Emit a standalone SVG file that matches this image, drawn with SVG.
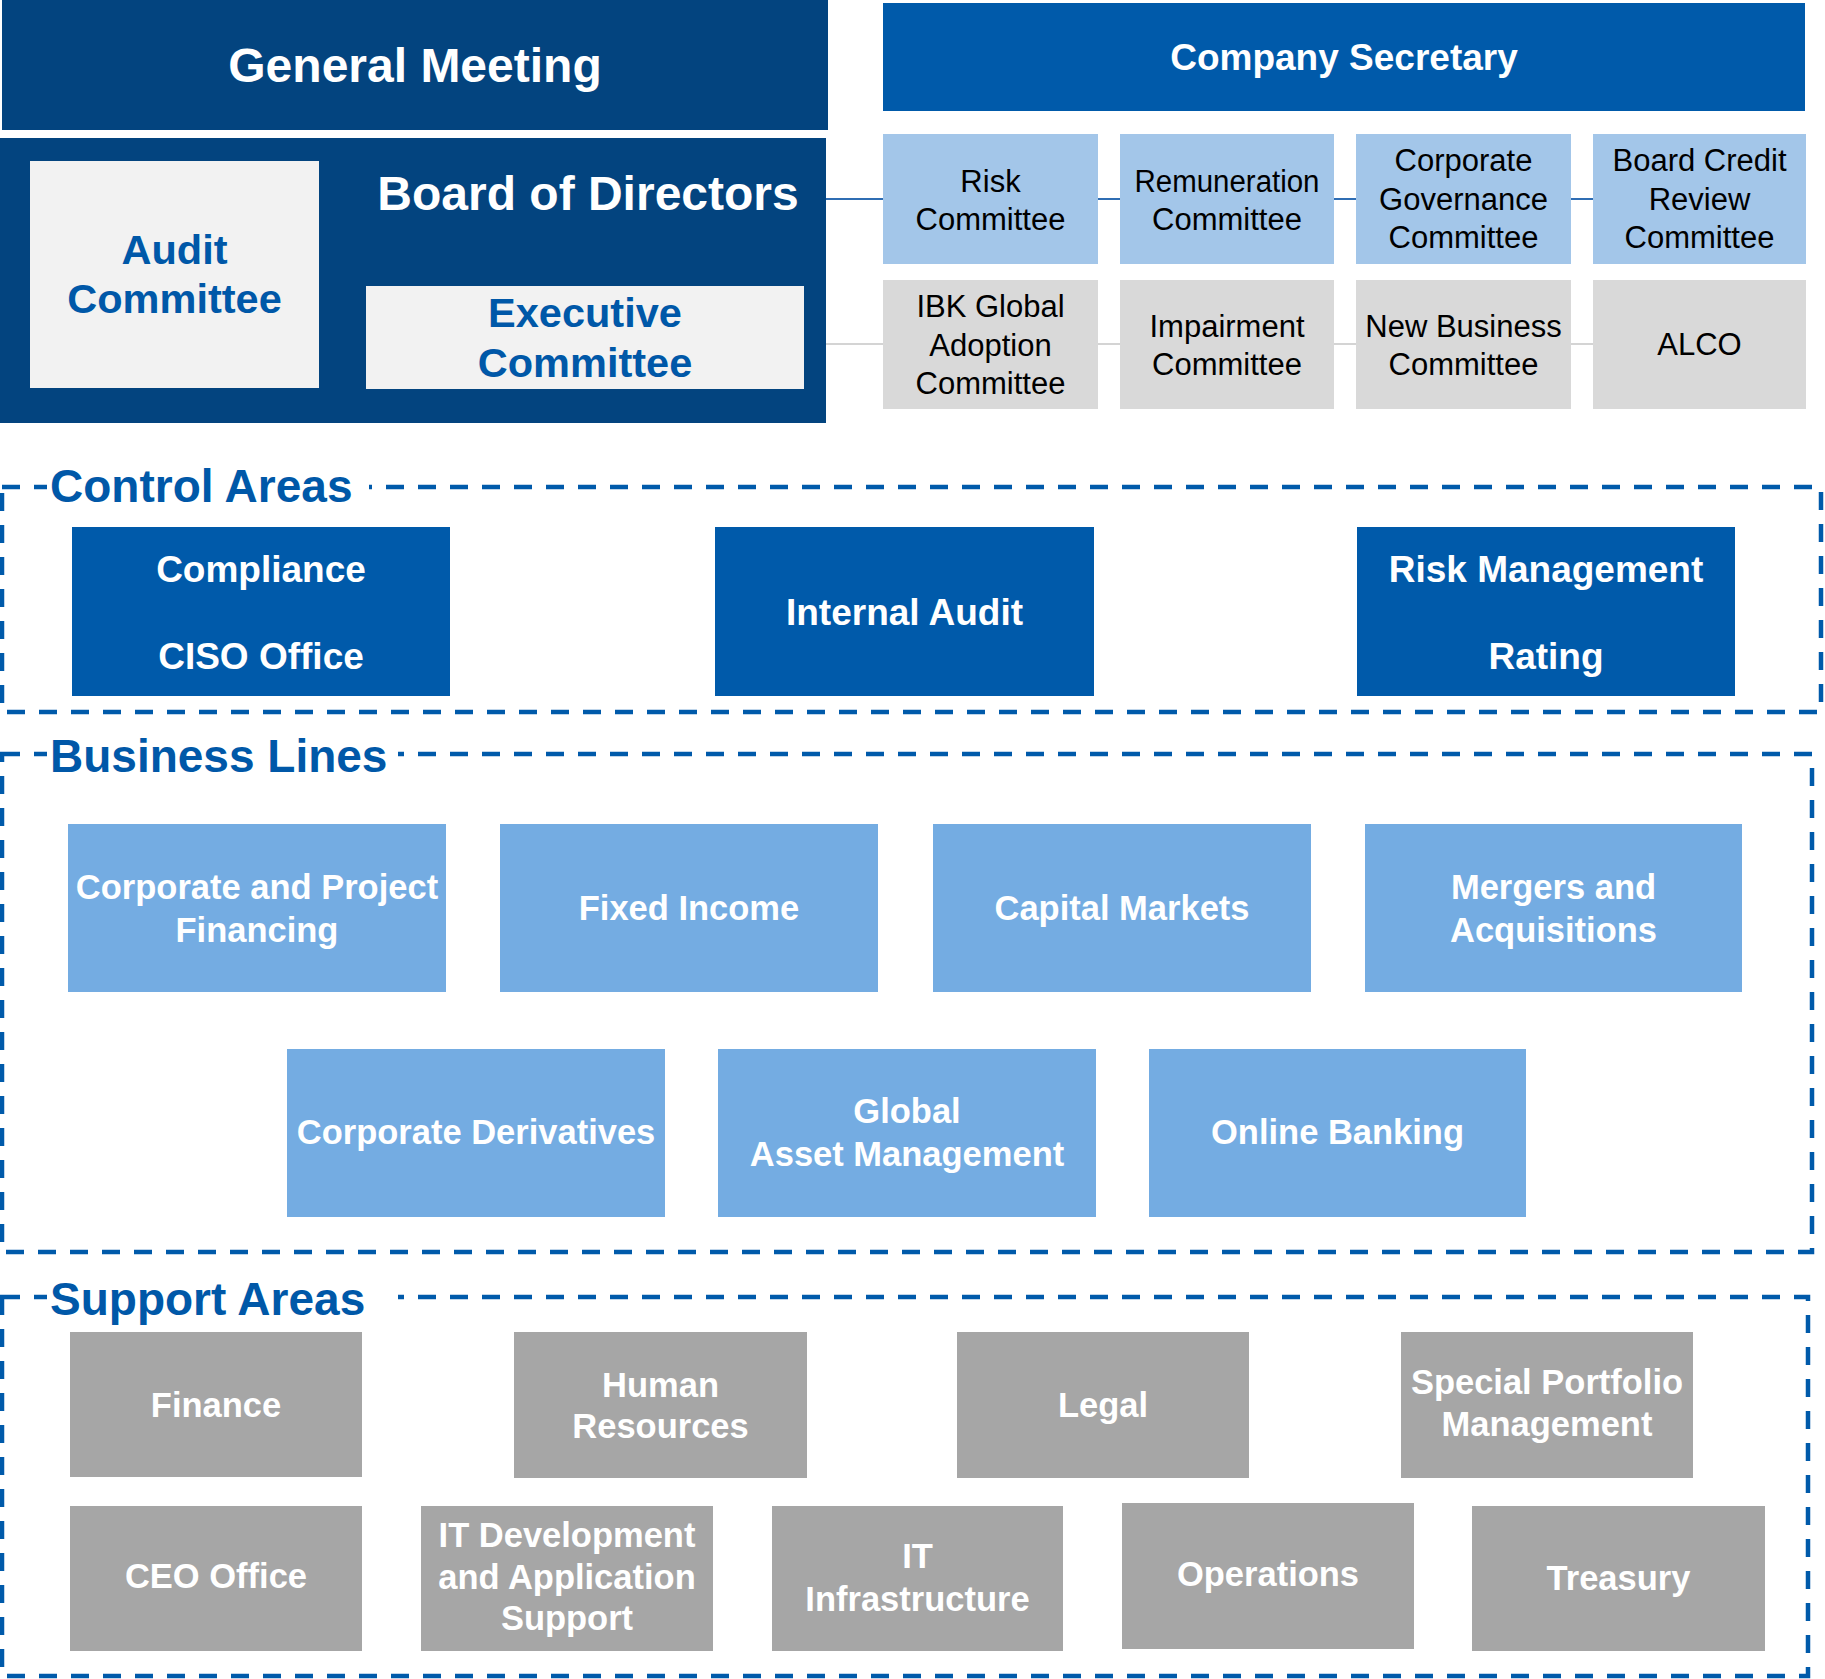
<svg xmlns="http://www.w3.org/2000/svg" width="1825" height="1679" viewBox="0 0 1825 1679">
<style>
text{font-family:"Liberation Sans",Arial,sans-serif;text-anchor:middle}
.wb{fill:#ffffff;font-weight:bold}
.big{font-size:48px}
.bl{fill:#0058A8;font-weight:bold;font-size:41.5px}
.cs{font-size:37px}
.cm{fill:#000000;font-size:31px}
.ct{font-size:37px}
.bz{font-size:34.5px}
.sp{font-size:34.5px}
.lab{fill:#0058A8;font-weight:bold;font-size:46px;text-anchor:start}
.navy{fill:#03447F}
.blue{fill:#005AAA}
.lb{fill:#A3C6E9}
.gr{fill:#D9D9D9}
.bus{fill:#74ACE2}
.sup{fill:#A6A6A6}
.pale{fill:#F2F2F2}
.dash{fill:none;stroke:#005AAA;stroke-width:4.5;stroke-dasharray:18 14}
</style>
<rect width="1825" height="1679" fill="#ffffff"/>
<g id="connectors">
<line x1="826" y1="199" x2="1593" y2="199" stroke="#2F6DB3" stroke-width="2"/>
<line x1="803" y1="344" x2="1593" y2="344" stroke="#D4D4D4" stroke-width="2"/>
</g>
<g id="general-meeting"><rect class="navy" x="2" y="0" width="826" height="130"/><text class="wb big" x="415" y="82">General Meeting</text></g>
<g id="board"><rect class="navy" x="0" y="138" width="826" height="285"/><text class="wb big" x="588" y="210">Board of Directors</text></g>
<g id="audit"><rect class="pale" x="30" y="161" width="289" height="227"/><text class="bl" x="174.5" y="264">Audit</text><text class="bl" x="174.5" y="313">Committee</text></g>
<g id="executive"><rect class="pale" x="366" y="286" width="438" height="103"/><text class="bl" x="585" y="327">Executive</text><text class="bl" x="585" y="377">Committee</text></g>
<g id="company-secretary"><rect class="blue" x="883" y="3" width="922" height="108"/><text class="wb cs" x="1344" y="70">Company Secretary</text></g>
<g id="risk-committee"><rect class="lb" x="883" y="134" width="215" height="130"/><text class="cm" x="990.5" y="192">Risk</text><text class="cm" x="990.5" y="230">Committee</text></g>
<g id="remuneration"><rect class="lb" x="1120" y="134" width="214" height="130"/><text class="cm" x="1227" y="192" textLength="185" lengthAdjust="spacingAndGlyphs">Remuneration</text><text class="cm" x="1227" y="230">Committee</text></g>
<g id="corp-governance"><rect class="lb" x="1356" y="134" width="215" height="130"/><text class="cm" x="1463.5" y="171">Corporate</text><text class="cm" x="1463.5" y="210">Governance</text><text class="cm" x="1463.5" y="248">Committee</text></g>
<g id="board-credit"><rect class="lb" x="1593" y="134" width="213" height="130"/><text class="cm" x="1699.5" y="171">Board Credit</text><text class="cm" x="1699.5" y="210">Review</text><text class="cm" x="1699.5" y="248">Committee</text></g>
<g id="ibk-global"><rect class="gr" x="883" y="280" width="215" height="129"/><text class="cm" x="990.5" y="317">IBK Global</text><text class="cm" x="990.5" y="356">Adoption</text><text class="cm" x="990.5" y="394">Committee</text></g>
<g id="impairment"><rect class="gr" x="1120" y="280" width="214" height="129"/><text class="cm" x="1227" y="337">Impairment</text><text class="cm" x="1227" y="375">Committee</text></g>
<g id="new-business"><rect class="gr" x="1356" y="280" width="215" height="129"/><text class="cm" x="1463.5" y="337">New Business</text><text class="cm" x="1463.5" y="375">Committee</text></g>
<g id="alco"><rect class="gr" x="1593" y="280" width="213" height="129"/><text class="cm" x="1699.5" y="355">ALCO</text></g>

<g id="control-areas">
<rect class="dash" x="2" y="487" width="1819" height="225"/>
<rect x="47" y="468" width="322" height="36" fill="#ffffff"/>
<text class="lab" x="50" y="502">Control Areas</text>
</g>
<g id="compliance"><rect class="blue" x="72" y="527" width="378" height="169"/><text class="wb ct" x="261" y="582">Compliance</text><text class="wb ct" x="261" y="669">CISO Office</text></g>
<g id="internal-audit"><rect class="blue" x="715" y="527" width="379" height="169"/><text class="wb ct" x="904.5" y="625">Internal Audit</text></g>
<g id="risk-management"><rect class="blue" x="1357" y="527" width="378" height="169"/><text class="wb ct" x="1546" y="582">Risk Management</text><text class="wb ct" x="1546" y="669">Rating</text></g>

<g id="business-lines">
<rect class="dash" x="2" y="754" width="1810" height="498"/>
<rect x="47" y="736" width="351" height="36" fill="#ffffff"/>
<text class="lab" x="50" y="772">Business Lines</text>
</g>
<g id="corp-project"><rect class="bus" x="68" y="824" width="378" height="168"/><text class="wb bz" x="257" y="899">Corporate and Project</text><text class="wb bz" x="257" y="942">Financing</text></g>
<g id="fixed-income"><rect class="bus" x="500" y="824" width="378" height="168"/><text class="wb bz" x="689" y="920">Fixed Income</text></g>
<g id="capital-markets"><rect class="bus" x="933" y="824" width="378" height="168"/><text class="wb bz" x="1122" y="920">Capital Markets</text></g>
<g id="mergers"><rect class="bus" x="1365" y="824" width="377" height="168"/><text class="wb bz" x="1553.5" y="899">Mergers and</text><text class="wb bz" x="1553.5" y="942">Acquisitions</text></g>
<g id="corp-derivatives"><rect class="bus" x="287" y="1049" width="378" height="168"/><text class="wb bz" x="476" y="1144">Corporate Derivatives</text></g>
<g id="global-am"><rect class="bus" x="718" y="1049" width="378" height="168"/><text class="wb bz" x="907" y="1123">Global</text><text class="wb bz" x="907" y="1166">Asset Management</text></g>
<g id="online-banking"><rect class="bus" x="1149" y="1049" width="377" height="168"/><text class="wb bz" x="1337.5" y="1144">Online Banking</text></g>

<g id="support-areas">
<rect class="dash" x="2" y="1297" width="1806" height="379"/>
<rect x="47" y="1279" width="351" height="36" fill="#ffffff"/>
<text class="lab" x="50" y="1315">Support Areas</text>
</g>
<g id="finance"><rect class="sup" x="70" y="1332" width="292" height="145"/><text class="wb sp" x="216" y="1417">Finance</text></g>
<g id="hr"><rect class="sup" x="514" y="1332" width="293" height="146"/><text class="wb sp" x="660.5" y="1397">Human</text><text class="wb sp" x="660.5" y="1438">Resources</text></g>
<g id="legal"><rect class="sup" x="957" y="1332" width="292" height="146"/><text class="wb sp" x="1103" y="1417">Legal</text></g>
<g id="special-portfolio"><rect class="sup" x="1401" y="1332" width="292" height="146"/><text class="wb sp" x="1547" y="1394">Special Portfolio</text><text class="wb sp" x="1547" y="1436">Management</text></g>
<g id="ceo-office"><rect class="sup" x="70" y="1506" width="292" height="145"/><text class="wb sp" x="216" y="1588">CEO Office</text></g>
<g id="it-dev"><rect class="sup" x="421" y="1506" width="292" height="145"/><text class="wb sp" x="567" y="1547">IT Development</text><text class="wb sp" x="567" y="1589">and Application</text><text class="wb sp" x="567" y="1630">Support</text></g>
<g id="it-infra"><rect class="sup" x="772" y="1506" width="291" height="145"/><text class="wb sp" x="917.5" y="1568">IT</text><text class="wb sp" x="917.5" y="1611">Infrastructure</text></g>
<g id="operations"><rect class="sup" x="1122" y="1503" width="292" height="146"/><text class="wb sp" x="1268" y="1586">Operations</text></g>
<g id="treasury"><rect class="sup" x="1472" y="1506" width="293" height="145"/><text class="wb sp" x="1618.5" y="1590">Treasury</text></g>
</svg>
